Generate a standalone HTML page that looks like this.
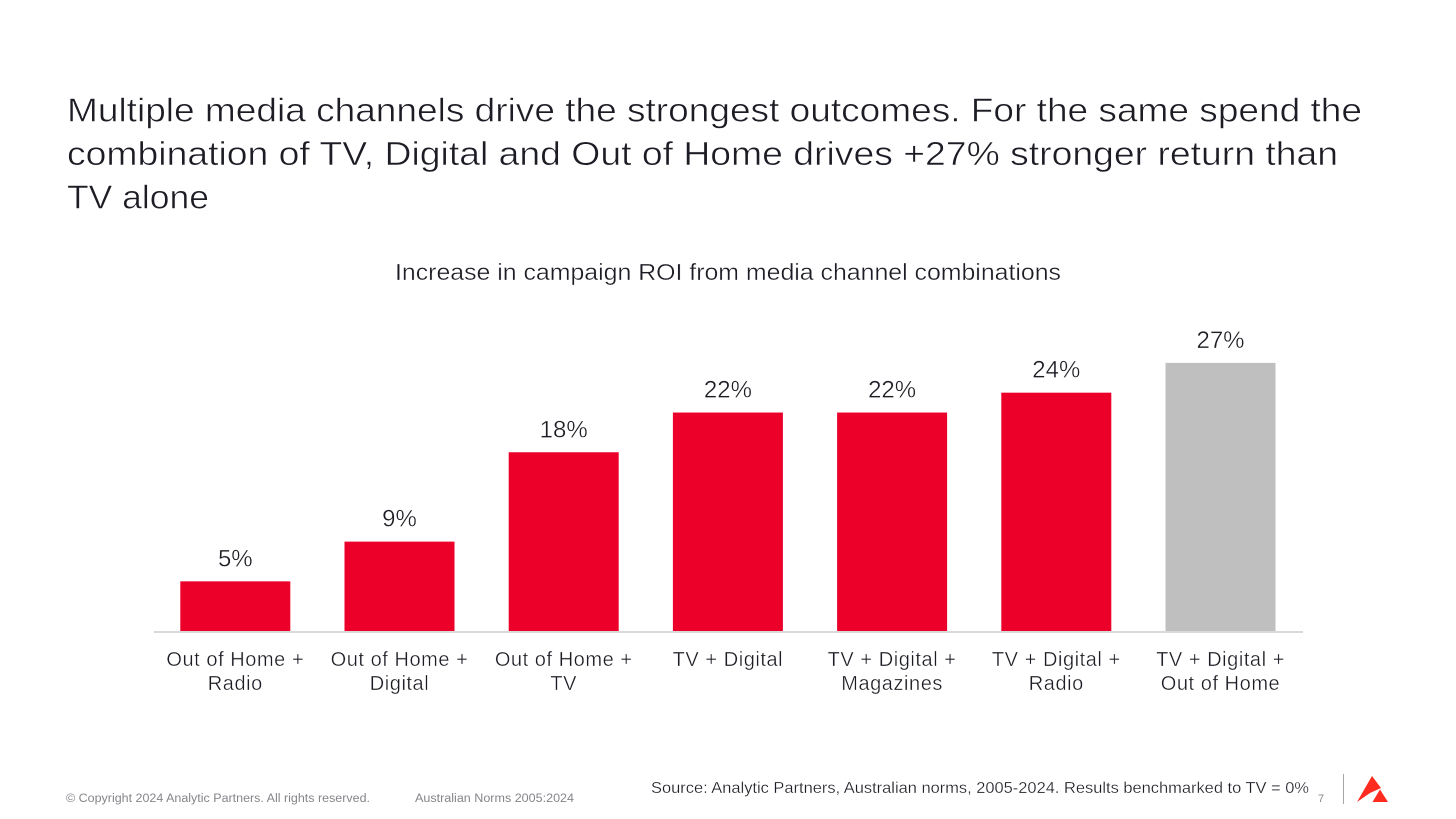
<!DOCTYPE html>
<html lang="en">
<head>
<meta charset="utf-8">
<title>Increase in campaign ROI from media channel combinations</title>
<style>
html,body{margin:0;padding:0;background:#fff;}
body{width:1456px;height:819px;overflow:hidden;}
svg{display:block;font-family:"Liberation Sans",sans-serif;}
.thin-lg{stroke:#fff;stroke-width:.55px;}
.thin-md{stroke:#fff;stroke-width:.35px;}
.thin-sm{stroke:#fff;stroke-width:.25px;}
</style>
</head>
<body>
<svg id="slide" width="1456" height="819" viewBox="0 0 1456 819" xmlns="http://www.w3.org/2000/svg">
  <rect width="1456" height="819" fill="#ffffff"/>
  <g fill="#1c1c24" font-size="33" class="thin-lg">
    <text x="67" y="121.5" textLength="1295" lengthAdjust="spacingAndGlyphs">Multiple media channels drive the strongest outcomes. For the same spend the</text>
    <text x="67" y="165" textLength="1271" lengthAdjust="spacingAndGlyphs">combination of TV, Digital and Out of Home drives +27% stronger return than</text>
    <text x="67" y="208.5" textLength="142" lengthAdjust="spacingAndGlyphs">TV alone</text>
  </g>
  <text class="thin-md" x="728" y="280" text-anchor="middle" font-size="23" fill="#1c1c24" textLength="666" lengthAdjust="spacingAndGlyphs">Increase in campaign ROI from media channel combinations</text>
  <g id="bars"></g>
  <g id="value-labels" class="thin-md"></g>
  <line x1="154" x2="1303" y1="632" y2="632" stroke="#d9d9d9" stroke-width="2"/>
  <g id="category-labels" class="thin-md"></g>
  <g>
    <text x="66" y="802" font-size="11.5" fill="#85858b" textLength="304" lengthAdjust="spacingAndGlyphs">© Copyright 2024 Analytic Partners. All rights reserved.</text>
    <text x="415" y="802" font-size="11.5" fill="#85858b" textLength="159" lengthAdjust="spacingAndGlyphs">Australian Norms 2005:2024</text>
    <text class="thin-sm" x="651" y="793" font-size="16" fill="#1c1c24" textLength="658" lengthAdjust="spacingAndGlyphs">Source: Analytic Partners, Australian norms, 2005-2024. Results benchmarked to TV = 0%</text>
    <text x="1318" y="802" font-size="11" fill="#85858b">7</text>
    <line x1="1343.5" x2="1343.5" y1="774" y2="804" stroke="#a6a6a6" stroke-width="1"/>
    <g fill="#ff2a20">
      <polygon points="1357,802 1372,776 1381,788 1370,793"/>
      <polygon points="1372.5,802 1380,789.5 1388,802"/>
    </g>
  </g>
</svg>
<script>
var categories = [
  ["Out of Home +", "Radio"],
  ["Out of Home +", "Digital"],
  ["Out of Home +", "TV"],
  ["TV + Digital"],
  ["TV + Digital +", "Magazines"],
  ["TV + Digital +", "Radio"],
  ["TV + Digital +", "Out of Home"]
];
var roiValues = [5, 9, 18, 22, 22, 24, 27];
var highlightedCategory = 6;

var NS = "http://www.w3.org/2000/svg";
var barsGroup = document.getElementById("bars");
var valuesGroup = document.getElementById("value-labels");
var labelsGroup = document.getElementById("category-labels");

function xCenter(i) { return 235.3 + i * 164.2; }
function yScale(v) { return 631 - v * 9.93; }

roiValues.forEach(function (v, i) {
  var cx = xCenter(i);
  var top = yScale(v);

  var bar = document.createElementNS(NS, "rect");
  
  
  bar.setAttribute("x", cx - 55);
  bar.setAttribute("y", top);
  bar.setAttribute("width", 110);
  bar.setAttribute("height", yScale(0) - top);
  bar.setAttribute("fill", i === highlightedCategory ? "#bfbfbf" : "#ec0029");
  barsGroup.appendChild(bar);

  var val = document.createElementNS(NS, "text");
  
  
  val.setAttribute("x", cx);
  val.setAttribute("y", top - 15);
  val.setAttribute("text-anchor", "middle");
  val.setAttribute("font-size", "24");
  val.setAttribute("fill", "#1c1c24");
  val.textContent = v + "%";
  valuesGroup.appendChild(val);

  categories[i].forEach(function (line, j) {
    var t = document.createElementNS(NS, "text");
    
    
    t.setAttribute("x", cx);
    t.setAttribute("y", 666 + j * 24);
    t.setAttribute("text-anchor", "middle");
    t.setAttribute("font-size", "20");
    t.setAttribute("letter-spacing", "0.55");
    t.setAttribute("fill", "#1c1c24");
    t.textContent = line;
    labelsGroup.appendChild(t);
  });
});
</script>
</body>
</html>
